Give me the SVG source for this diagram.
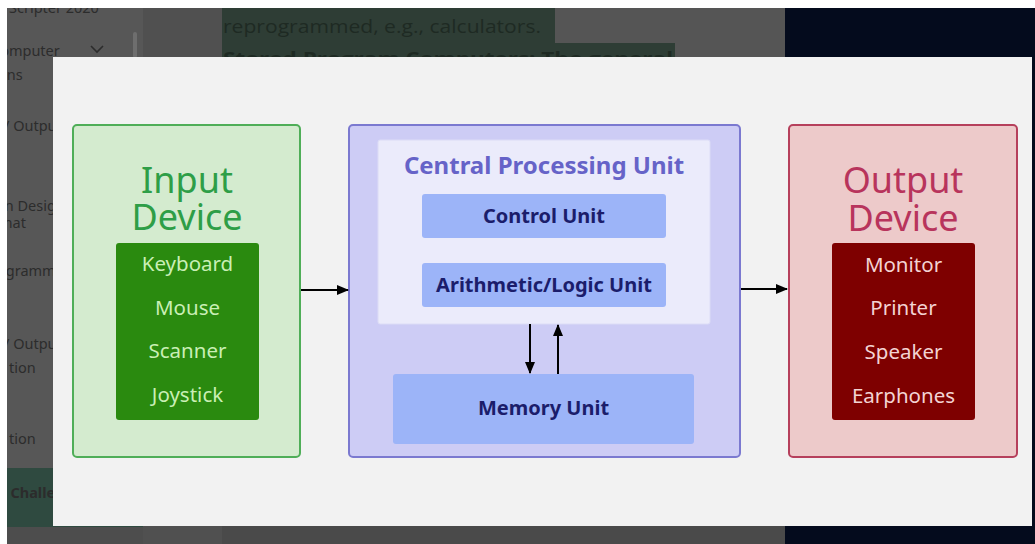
<svg xmlns="http://www.w3.org/2000/svg" width="1035" height="544" viewBox="0 0 1035 544">
  <defs>
    <style>
      .side { font-family: "Noto Sans", "Open Sans", sans-serif; font-size: 14.5px; fill: #2c2c2c; }
      .page { font-family: "Open Sans", "Noto Sans", sans-serif; font-size: 18px; fill: #1e2a23; }
      .dg { font-family: "Noto Sans", "DejaVu Sans", sans-serif; text-anchor: middle; }
      .title { font-size: 36px; }
      .item { font-size: 20.5px; }
      .unit { font-size: 20px; font-weight: bold; fill: #1b1d6b; }
      .conn { stroke: #000; stroke-width: 2; fill: none; }
    </style>
    <marker id="head" viewBox="0 0 12 10" refX="11" refY="5" markerWidth="12" markerHeight="10" markerUnits="userSpaceOnUse" orient="auto">
      <path d="M0,0 L12,5 L0,10 Z" fill="#000"/>
    </marker>
    <clipPath id="behindPanel">
      <rect x="0" y="0" width="1035" height="57"/>
    </clipPath>
  </defs>

  <!-- dimmed page behind the dialog -->
  <g id="page-background">
    <rect x="0" y="0" width="1035" height="544" fill="#505050"/>
    <rect x="7" y="0" width="136" height="544" fill="#575757"/>
    <rect x="7" y="468" width="136" height="59" fill="#2f4a40"/>
    <rect x="7" y="527" width="136" height="17" fill="#4d4d4d"/>
    <rect x="222" y="0" width="563" height="544" fill="#555555"/>
    <rect x="222" y="0" width="333" height="43" fill="#2e3d35"/>
    <rect x="222" y="43" width="453" height="20" fill="#2e3d35"/>
    <rect x="222" y="525" width="563" height="19" fill="#4a4a4a"/>
    <rect x="785" y="0" width="250" height="544" fill="#040b1d"/>
    <!-- sidebar scrollbar -->
    <rect x="133" y="32" width="4" height="26" rx="2" fill="#6e6e6e"/>
    <!-- sidebar entries -->
    <text class="side" x="9" y="13">Scripter 2020</text>
    <text class="side" x="-9" y="56">Computer</text>
    <path d="M91,46 L97,52 L103,46" stroke="#2c2c2c" stroke-width="1.6" fill="none"/>
    <text class="side" x="-2" y="80">ons</text>
    <text class="side" x="4" y="131">/ Output</text>
    <text class="side" x="-4" y="211">on Design</text>
    <text class="side" x="-1" y="228">mat</text>
    <text class="side" x="-3" y="276">ogramming</text>
    <text class="side" x="4" y="349">/ Output</text>
    <text class="side" x="9" y="373">tion</text>
    <text class="side" x="9" y="444">tion</text>
    <text class="side" x="-2" y="498" font-weight="bold" fill="#1f2b26">e Challenge</text>
    <!-- article text partly hidden by the dialog -->
    <g clip-path="url(#behindPanel)">
      <text class="page" x="223" y="33" textLength="318" lengthAdjust="spacingAndGlyphs">reprogrammed, e.g., calculators.</text>
      <text class="page" x="223" y="65" font-weight="bold" textLength="450" lengthAdjust="spacingAndGlyphs">Stored Program Computers: The general</text>
    </g>
    <!-- white margins -->
    <rect x="0" y="0" width="1035" height="8" fill="#ffffff"/>
    <rect x="0" y="0" width="7" height="544" fill="#ffffff"/>
  </g>

  <!-- dialog panel -->
  <rect id="panel" x="53" y="57" width="979" height="469" fill="#f2f2f2"/>

  <g id="input-device">
    <rect x="73" y="125" width="227" height="332" rx="4" fill="#d4ebcf" stroke="#4fae58" stroke-width="2"/>
    <text class="dg title" x="187" y="193" fill="#2e9e47">Input</text>
    <text class="dg title" x="187" y="230" fill="#2e9e47">Device</text>
    <rect x="116" y="243" width="143" height="177" rx="3" fill="#2a8a0f"/>
    <g class="dg item" fill="#c9efb5">
      <text x="187.5" y="271">Keyboard</text>
      <text x="187.5" y="315">Mouse</text>
      <text x="187.5" y="358">Scanner</text>
      <text x="187.5" y="402">Joystick</text>
    </g>
  </g>

  <g id="cpu">
    <rect x="349" y="125" width="391" height="332" rx="4" fill="#cdccf5" stroke="#7b79d0" stroke-width="2"/>
    <rect x="378" y="140" width="332" height="184" rx="2" fill="#ebebfb" stroke="#dcdcf6" stroke-width="1"/>
    <text class="dg" x="544" y="174" font-size="24" font-weight="bold" fill="#6663c8">Central Processing Unit</text>
  </g>

  <g id="control-unit">
    <rect x="422" y="194" width="244" height="44" rx="3" fill="#9cb4f8"/>
    <text class="dg unit" x="544" y="223">Control Unit</text>
  </g>

  <g id="alu">
    <rect x="422" y="263" width="244" height="44" rx="3" fill="#9cb4f8"/>
    <text class="dg unit" x="544" y="292">Arithmetic/Logic Unit</text>
  </g>

  <g id="memory-unit">
    <rect x="393" y="374" width="301" height="70" rx="3" fill="#9cb4f8"/>
    <text class="dg unit" x="543.5" y="415">Memory Unit</text>
  </g>

  <g id="output-device">
    <rect x="789" y="125" width="228" height="332" rx="4" fill="#edcaca" stroke="#b6405c" stroke-width="2"/>
    <text class="dg title" x="903" y="193" fill="#b8345c">Output</text>
    <text class="dg title" x="903" y="231" fill="#b8345c">Device</text>
    <rect x="832" y="243" width="143" height="177" rx="3" fill="#7e0000"/>
    <g class="dg item" fill="#f3d3d3">
      <text x="903.5" y="272">Monitor</text>
      <text x="903.5" y="315">Printer</text>
      <text x="903.5" y="359">Speaker</text>
      <text x="903.5" y="403">Earphones</text>
    </g>
  </g>

  <g id="connectors">
    <line class="conn" x1="301" y1="290" x2="348" y2="290" marker-end="url(#head)"/>
    <line class="conn" x1="741" y1="289" x2="787" y2="289" marker-end="url(#head)"/>
    <line class="conn" x1="530" y1="324" x2="530" y2="373" marker-end="url(#head)"/>
    <line class="conn" x1="558" y1="374" x2="558" y2="325" marker-end="url(#head)"/>
  </g>
</svg>
